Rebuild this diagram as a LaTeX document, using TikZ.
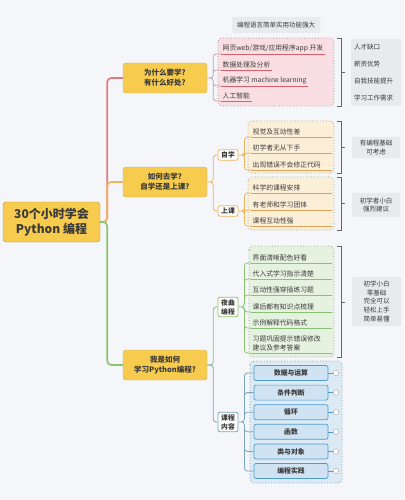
\documentclass[tikz,border=0pt]{standalone}
\usepackage{fontspec}
\setmainfont{Noto Sans CJK SC}
\usepackage{tikz}
\usetikzlibrary{calc}
\usepackage{xcolor}
\definecolor{bgc}{HTML}{F4F6F9}
\definecolor{gold}{HTML}{F7CB4D}
\definecolor{goldline}{HTML}{B39445}
\definecolor{ink}{HTML}{3A3A3A}
\definecolor{redline}{HTML}{E27A7A}
\definecolor{orangeline}{HTML}{F2B45A}
\definecolor{greenline}{HTML}{8CC46A}
\definecolor{pinkfill}{HTML}{F9DFE3}
\definecolor{pinkdot}{HTML}{A38C90}
\definecolor{pinkul}{HTML}{D9606A}
\definecolor{pinkconn}{HTML}{C9A3A8}
\definecolor{orangefill}{HTML}{FCEFD8}
\definecolor{orangedot}{HTML}{A8987A}
\definecolor{orangeul}{HTML}{D9A45A}
\definecolor{greenfill}{HTML}{E6F2E0}
\definecolor{greendot}{HTML}{8FA088}
\definecolor{greenul}{HTML}{8CBF78}
\definecolor{bluefill}{HTML}{DCEAF5}
\definecolor{bluedot}{HTML}{7E93A3}
\definecolor{blueitem}{HTML}{CFE3F3}
\definecolor{blueborder}{HTML}{4E9CC9}
\definecolor{blueconn}{HTML}{7BA7BE}
\definecolor{notefill}{HTML}{E9EAEE}

\begin{document}
\begin{tikzpicture}[x=1pt, y=-1pt, text=ink,
    root/.style={fill=gold, draw=goldline, rounded corners=3pt, align=center, minimum width=97, minimum height=40, font=\bfseries\fontsize{12}{14.5}\selectfont},
    topic/.style={fill=gold, draw=goldline!70, rounded corners=2.5pt, align=center, minimum width=84, minimum height=30, font=\bfseries\fontsize{7.5}{10}\selectfont},
    sub/.style={fill=white, rounded corners=2pt, line width=0.8pt, align=center, minimum width=20, inner sep=2pt, font=\bfseries\fontsize{6.8}{9}\selectfont},
    item/.style={anchor=south west, inner sep=1.5pt, align=left, font=\fontsize{6.8}{9.5}\selectfont},
    grp/.style={dotted, line width=0.8pt, rounded corners=4pt},
    note/.style={fill=notefill, rounded corners=1pt, inner sep=3pt, font=\fontsize{6.5}{8.8}\selectfont},
    lesson/.style={fill=blueitem, draw=blueborder, line width=0.7pt, rounded corners=2pt, minimum width=74, minimum height=15, font=\bfseries\fontsize{6.8}{8}\selectfont},
    knob/.style={circle, draw=black!35, fill=white, line width=0.4pt, inner sep=0pt, minimum size=5.5},
    trunk/.style={line width=1.6pt, rounded corners=4pt},
    conn/.style={line width=0.8pt, rounded corners=3pt},
    brk/.style={line width=0.8pt, black!60}]
    \fill[bgc] (0,0) rectangle (404,500);
    \useasboundingbox (0,0) rectangle (404,500);
    \node[root] (root) at (51.5,222) {30个小时学会\\Python 编程};
    \node[topic] (why) at (165,78) {为什么要学?\\有什么好处?};
    \node[topic] (how) at (165,182) {如何去学?\\自学还是上课?};
    \node[topic] (me) at (165,365) {我是如何\\学习Python编程?};
    \draw[trunk, redline] (root.east) -- ++(7,0) |- (why.west);
    \draw[trunk, orangeline] (root.east) -- ++(7,0) |- (how.west);
    \draw[trunk, greenline] (root.east) -- ++(7,0) |- (me.west);
    \node[note, minimum width=88, minimum height=16] (slogan) at (276,25) {编程语言简单实用功能强大};
    \draw[grp, draw=pinkdot, fill=pinkfill] (218,38) rectangle (334,106);
    \node[item] (w1) at (221,54) {网页web/游戏/应用程序app 开发};
    \node[item] (w2) at (221,70) {数据处理及分析};
    \node[item] (w3) at (221,86) {机器学习 machine learning};
    \node[item] (w4) at (221,101) {人工智能};
    \draw[conn, pinkconn] (why.east) -- ++(6,0) |- (w1.south west) (why.east) -- ++(6,0) |- (w2.south west)
        (why.east) -- ++(6,0) |- (w3.south west) (why.east) -- ++(6,0) |- (w4.south west);
    \draw[pinkul, line width=0.8pt] (w1.south west) -- (w1.south east) (w2.south west) -- (w2.south east)
        (w3.south west) -- (w3.south east) (w4.south west) -- (w4.south east);
    \draw[brk] (337,38) -- (341,38) -- (341,106) -- (337,106) (341,72) -- (345,72);
    \node[note, text width=44, minimum height=67, align=left, font=\fontsize{6.5}{17}\selectfont] (gain) at (376,72.5) {人才缺口\\薪资优势\\自我技能提升\\学习工作需求};
    \node[sub, draw=orangeline] (self) at (228,155) {自学};
    \node[sub, draw=orangeline] (class) at (228,211) {上课};
    \draw[conn, orangeline] (how.east) -- ++(6,0) |- (self.west) (how.east) -- ++(6,0) |- (class.west);
    \draw[grp, draw=orangedot, fill=orangefill] (248,121) rectangle (334,173);
    \draw[grp, draw=orangedot, fill=orangefill] (248,177) rectangle (334,230);
    \node[item, text width=78] (a1) at (251,137) {视觉及互动性差};
    \node[item, text width=78] (a2) at (251,153) {初学者无从下手};
    \node[item, text width=78] (a3) at (251,170) {出现错误不会修正代码};
    \node[item, text width=78] (c1) at (251,193) {科学的课程安排};
    \node[item, text width=78] (c2) at (251,210) {有老师和学习团体};
    \node[item, text width=78] (c3) at (251,226) {课程互动性强};
    \draw[conn, orangeline] (self.east) -- ++(6,0) |- (a1.south west) (self.east) -- ++(6,0) |- (a2.south west) (self.east) -- ++(6,0) |- (a3.south west)
        (class.east) -- ++(6,0) |- (c1.south west) (class.east) -- ++(6,0) |- (c2.south west) (class.east) -- ++(6,0) |- (c3.south west);
    \draw[orangeul, line width=0.8pt] (a1.south west) -- (a1.south east) (a2.south west) -- (a2.south east) (a3.south west) -- (a3.south east)
        (c1.south west) -- (c1.south east) (c2.south west) -- (c2.south east) (c3.south west) -- (c3.south east);
    \draw[brk] (337,121) -- (341,121) -- (341,173) -- (337,173) (341,147) -- (345,147);
    \draw[brk] (337,177) -- (341,177) -- (341,230) -- (337,230) (341,203) -- (345,203);
    \node[note, minimum width=48, minimum height=21, align=center] (basic) at (376,147.5) {有编程基础\\可考虑};
    \node[note, minimum width=48, minimum height=24, align=center] (novice) at (376,205) {初学者小白\\强烈建议};
    \node[sub, draw=greenline] (yequ) at (228,307) {夜曲\\编程};
    \node[sub, draw=blueconn] (course) at (228,422) {课程\\内容};
    \draw[conn, greenline] (me.east) -- ++(6,0) |- (yequ.west);
    \draw[conn, blueconn] (me.east) -- ++(6,0) |- (course.west);
    \draw[grp, draw=greendot, fill=greenfill] (249,246) rectangle (334,357);
    \node[item, text width=78] (g1) at (251,263) {界面清晰配色好看};
    \node[item, text width=78] (g2) at (251,279) {代入式学习指示清楚};
    \node[item, text width=78] (g3) at (251,295) {互动性强穿插练习题};
    \node[item, text width=78] (g4) at (251,312) {课后都有知识点梳理};
    \node[item, text width=78] (g5) at (251,328) {示例解释代码格式};
    \node[item, text width=78] (g6) at (251,353) {习题巩固提示错误修改\\建议及参考答案};
    \draw[conn, greenline] (yequ.east) -- ++(6,0) |- (g1.south west) (yequ.east) -- ++(6,0) |- (g2.south west) (yequ.east) -- ++(6,0) |- (g3.south west)
        (yequ.east) -- ++(6,0) |- (g4.south west) (yequ.east) -- ++(6,0) |- (g5.south west) (yequ.east) -- ++(6,0) |- (g6.south west);
    \draw[greenul, line width=0.8pt] (g1.south west) -- (g1.south east) (g2.south west) -- (g2.south east) (g3.south west) -- (g3.south east)
        (g4.south west) -- (g4.south east) (g5.south west) -- (g5.south east) (g6.south west) -- (g6.south east);
    \draw[brk] (337,246) -- (341,246) -- (341,357) -- (337,357) (341,302) -- (345,302);
    \node[note, minimum width=49, minimum height=49, align=center] (easy) at (376.5,301.5) {初学小白\\零基础\\完全可以\\轻松上手\\简单易懂};
    \draw[grp, draw=bluedot, fill=bluefill] (250,361) rectangle (342,483);
    \node[lesson] (b1) at (291,373) {数据与运算};
    \node[lesson] (b2) at (291,392.6) {条件判断};
    \node[lesson] (b3) at (291,412.2) {循环};
    \node[lesson] (b4) at (291,431.8) {函数};
    \node[lesson] (b5) at (291,451.4) {类与对象};
    \node[lesson] (b6) at (291,471) {编程实践};
    \node[knob] (k1) at (336,373) {}; \node[knob] (k2) at (336,392.6) {}; \node[knob] (k3) at (336,412.2) {};
    \node[knob] (k4) at (336,431.8) {}; \node[knob] (k5) at (336,451.4) {}; \node[knob] (k6) at (336,471) {};
    \draw[blueborder, line width=0.6pt] (b1.east) -- (k1) (b2.east) -- (k2) (b3.east) -- (k3) (b4.east) -- (k4) (b5.east) -- (k5) (b6.east) -- (k6);
    \draw[conn, blueconn] (course.east) -- ++(6,0) |- (b1.west) (course.east) -- ++(6,0) |- (b2.west) (course.east) -- ++(6,0) |- (b3.west)
        (course.east) -- ++(6,0) |- (b4.west) (course.east) -- ++(6,0) |- (b5.west) (course.east) -- ++(6,0) |- (b6.west);
\end{tikzpicture}
\end{document}
